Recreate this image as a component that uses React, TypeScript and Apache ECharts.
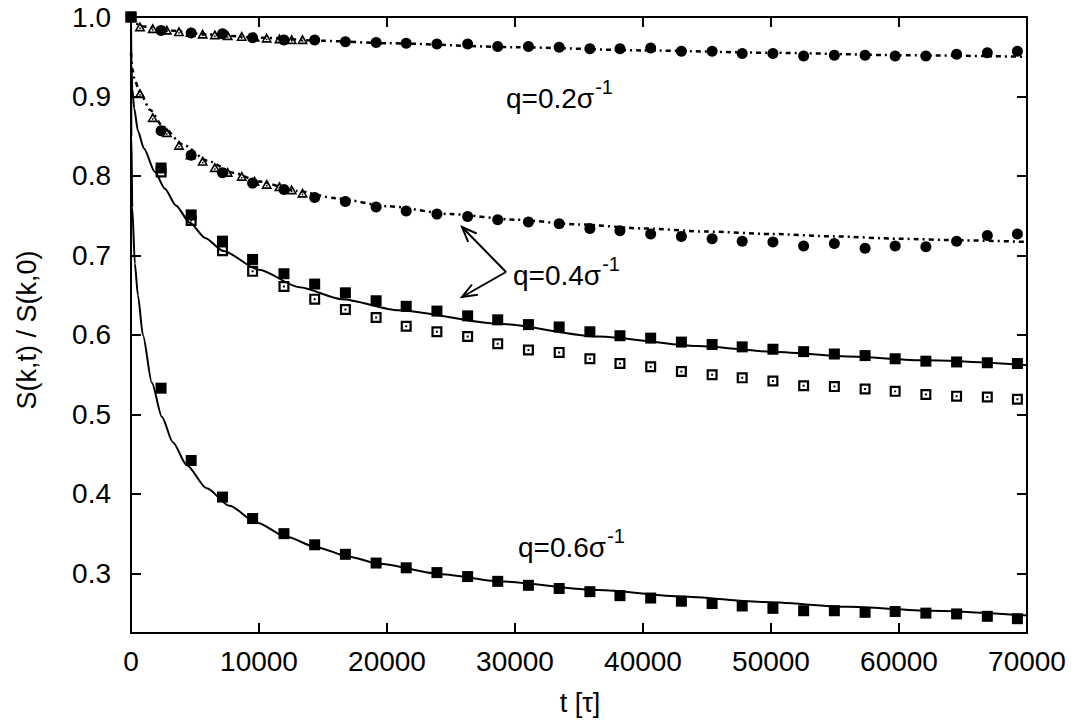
import React, { useEffect, useRef } from 'react';
import * as echarts from 'echarts';

// ---------------- data ----------------
const xTicks = [0, 10000, 20000, 30000, 40000, 50000, 60000, 70000];
const yTicks = [0.3, 0.4, 0.5, 0.6, 0.7, 0.8, 0.9, 1.0];

// simulation times (circles / squares)
const tMd = [2350, 4700, 7150, 9500, 11950, 14350, 16750, 19150, 21500, 23900, 26300, 28650, 31050, 33450, 35850, 38200, 40600, 43000, 45400, 47750, 50150, 52550, 54950, 57350, 59700, 62100, 64500, 66900, 69250];
// squares including the common t=0 point
const tSq = [0, 2350, 4700, 7150, 9500, 11950, 14350, 16750, 19150, 21500, 23900, 26300, 28650, 31050, 33450, 35850, 38200, 40600, 43000, 45400, 47750, 50150, 52550, 54950, 57350, 59700, 62100, 64500, 66900, 69250];
// triangle times
const tTri = [700, 1700, 2800, 3750, 4650, 5600, 6550, 7550, 8650, 9650, 10600, 11600, 12550, 13400];

// q = 0.2
const q02Tri = [0.988, 0.986, 0.984, 0.982, 0.981, 0.979, 0.978, 0.977, 0.976, 0.975, 0.974, 0.973, 0.972, 0.972];
const q02Circ = [0.983, 0.980, 0.979, 0.974, 0.971, 0.971, 0.969, 0.968, 0.967, 0.966, 0.966, 0.963, 0.963, 0.962, 0.960, 0.960, 0.961, 0.957, 0.957, 0.954, 0.954, 0.951, 0.952, 0.952, 0.951, 0.951, 0.953, 0.955, 0.957];
const fit02T = [0, 300, 1000, 3000, 6000, 10000, 15000, 20000, 30000, 40000, 50000, 60000, 70000];
const fit02 = [1.0, 0.992, 0.988, 0.983, 0.978, 0.974, 0.970, 0.967, 0.962, 0.958, 0.955, 0.952, 0.950];

// q = 0.4 (circles/triangles, dotted fit)
const q04Tri = [0.904, 0.874, 0.855, 0.839, 0.827, 0.819, 0.811, 0.805, 0.800, 0.794, 0.790, 0.787, 0.783, 0.779];
const q04Circ = [0.857, 0.826, 0.804, 0.791, 0.783, 0.773, 0.768, 0.761, 0.756, 0.752, 0.749, 0.745, 0.742, 0.740, 0.734, 0.731, 0.727, 0.724, 0.721, 0.718, 0.717, 0.712, 0.715, 0.709, 0.712, 0.711, 0.718, 0.725, 0.727];
const fit04dT = [0, 100, 300, 700, 1500, 2500, 4000, 6000, 8000, 10000, 13000, 16000, 20000, 25000, 30000, 35000, 40000, 45000, 50000, 55000, 60000, 65000, 70000];
const fit04d = [0.955, 0.935, 0.920, 0.905, 0.883, 0.862, 0.840, 0.819, 0.804, 0.793, 0.781, 0.772, 0.762, 0.752, 0.745, 0.739, 0.734, 0.730, 0.727, 0.724, 0.721, 0.719, 0.717];

// q = 0.4 (squares, solid fit)
const q04Filled = [1.0, 0.810, 0.751, 0.718, 0.695, 0.677, 0.664, 0.653, 0.643, 0.636, 0.630, 0.624, 0.619, 0.613, 0.610, 0.604, 0.599, 0.596, 0.591, 0.588, 0.585, 0.582, 0.579, 0.576, 0.574, 0.570, 0.567, 0.566, 0.565, 0.564];
const q04Open = [0.805, 0.744, 0.706, 0.680, 0.661, 0.645, 0.632, 0.622, 0.611, 0.604, 0.598, 0.589, 0.581, 0.578, 0.570, 0.564, 0.560, 0.554, 0.550, 0.546, 0.542, 0.536, 0.535, 0.532, 0.529, 0.525, 0.523, 0.522, 0.519];
const fit04sT = [0, 30, 100, 250, 540, 1000, 1870, 2650, 3500, 4600, 5800, 7160, 10000, 13150, 16500, 20900, 28700, 36500, 44300, 50000, 56000, 62000, 70000];
const fit04s = [1.0, 0.940, 0.910, 0.885, 0.857, 0.835, 0.805, 0.784, 0.763, 0.741, 0.722, 0.706, 0.682, 0.660, 0.645, 0.631, 0.614, 0.598, 0.586, 0.579, 0.573, 0.568, 0.562];

// q = 0.6
const q06Filled = [1.0, 0.533, 0.442, 0.396, 0.369, 0.350, 0.336, 0.324, 0.313, 0.307, 0.301, 0.296, 0.290, 0.285, 0.281, 0.277, 0.272, 0.269, 0.265, 0.262, 0.259, 0.256, 0.253, 0.253, 0.251, 0.252, 0.250, 0.249, 0.246, 0.243];
const fit06T = [0, 30, 100, 300, 540, 930, 1630, 2410, 3270, 4360, 5910, 7700, 9800, 12140, 14470, 17040, 19380, 24280, 28720, 36500, 43000, 49490, 56000, 62410, 70000];
const fit06 = [1.0, 0.850, 0.760, 0.690, 0.650, 0.600, 0.540, 0.497, 0.465, 0.436, 0.407, 0.385, 0.364, 0.346, 0.333, 0.321, 0.312, 0.299, 0.290, 0.279, 0.271, 0.264, 0.258, 0.253, 0.247];

const qLabels = ['q=0.2σ', 'q=0.4σ', 'q=0.6σ'];
const supText = '-1';
const xTitle = 't [τ]';
const yTitle = 'S(k,t) / S(k,0)';

// ---------------- component ----------------
const FONT = '"Liberation Sans", Arial, Helvetica, sans-serif';
const TRI = 'path://M5,0 L10,9 L0,9 Z M5,3.4 L2.3,7.5 L7.7,7.5 Z M4.3,5.4 L5.7,5.4 L5.7,6.8 L4.3,6.8 Z';
const OPEN_SQ = 'path://M0,0 L10,0 L10,10 L0,10 Z M2,2 L2,8 L8,8 L8,2 Z M4.1,4.1 L5.9,4.1 L5.9,5.9 L4.1,5.9 Z';

function zip(t: number[], v: number[]) {
  return t.map((x, i) => [x, v[i]]);
}

function measure(text: string, size: number) {
  const c = document.createElement('canvas').getContext('2d');
  if (!c) return text.length * size * 0.55;
  c.font = `${size}px "Liberation Sans"`;
  return c.measureText(text).width;
}

function arrow(x1: number, y1: number, x2: number, y2: number) {
  const dx = x2 - x1, dy = y2 - y1;
  const len = Math.hypot(dx, dy);
  const ux = dx / len, uy = dy / len;
  const hl = 16, a = 0.38;
  const ca = Math.cos(a), sa = Math.sin(a);
  const b1 = [x2 - hl * (ux * ca - uy * sa), y2 - hl * (uy * ca + ux * sa)];
  const b2 = [x2 - hl * (ux * ca + uy * sa), y2 - hl * (uy * ca - ux * sa)];
  return [
    { type: 'line', shape: { x1, y1, x2, y2 }, style: { stroke: '#000', lineWidth: 2 } },
    { type: 'polyline', shape: { points: [b1, [x2, y2], b2] }, style: { stroke: '#000', lineWidth: 2, fill: null } },
  ];
}

export default function App() {
  const ref = useRef<HTMLDivElement>(null);
  useEffect(() => {
    if (!ref.current) return;
    const chart = echarts.init(ref.current, null, { renderer: 'svg' });

    const axisLine = { show: true, onZero: false, lineStyle: { color: '#000', width: 2 } };
    const tick = { show: true, inside: true, length: 10, lineStyle: { color: '#000', width: 2 } };
    const lblStyle = { fontSize: 28, color: '#000', fontFamily: FONT };

    const labelPos = [
      { x: 506, y: 98 },
      { x: 513, y: 275 },
      { x: 518, y: 547 },
    ];
    const mainSize = 28;
    const supSize = 20;
    const texts: any[] = [];
    qLabels.forEach((s, i) => {
      const w = measure(s, mainSize);
      texts.push({
        type: 'text', x: labelPos[i].x, y: labelPos[i].y,
        style: { text: s, font: `${mainSize}px ${FONT}`, fill: '#000', textAlign: 'left', textVerticalAlign: 'middle' },
      });
      texts.push({
        type: 'text', x: labelPos[i].x + w + 1, y: labelPos[i].y - 11,
        style: { text: supText, font: `${supSize}px ${FONT}`, fill: '#000', textAlign: 'left', textVerticalAlign: 'middle' },
      });
    });

    const lineSeries = (t: number[], v: number[], dashed: boolean) => ({
      type: 'line', data: zip(t, v), showSymbol: false, symbol: 'none', smooth: 0.25, smoothMonotone: 'x',
      lineStyle: { color: '#000', width: dashed ? 2.5 : 2, type: dashed ? [5, 4, 2, 4] : 'solid' },
      silent: true, z: 2,
    });
    const scat = (t: number[], v: number[], symbol: string, size: any) => ({
      type: 'scatter', data: zip(t, v), symbol, symbolSize: size,
      itemStyle: { color: '#000', opacity: 1 }, silent: true, z: 3,
    });

    const option: any = {
      animation: false,
      backgroundColor: '#fff',
      grid: { left: 131, top: 17, width: 896, height: 616, containLabel: false },
      xAxis: [
        {
          type: 'value', position: 'bottom', min: 0, max: 70000, interval: 10000,
          axisLine, axisTick: { ...tick, customValues: xTicks },
          axisLabel: { ...lblStyle, margin: 14, customValues: xTicks, formatter: (v: number) => String(v) },
          splitLine: { show: false },
        },
        {
          type: 'value', position: 'top', min: 0, max: 70000, interval: 10000,
          axisLine, axisTick: { ...tick, customValues: xTicks }, axisLabel: { show: false }, splitLine: { show: false },
        },
      ],
      yAxis: [
        {
          type: 'value', position: 'left', min: 0.225, max: 1.0,
          axisLine, axisTick: { ...tick, customValues: yTicks },
          axisLabel: { ...lblStyle, margin: 20, customValues: yTicks, formatter: (v: number) => v.toFixed(1) },
          splitLine: { show: false },
        },
        {
          type: 'value', position: 'right', min: 0.225, max: 1.0,
          axisLine, axisTick: { ...tick, customValues: yTicks }, axisLabel: { show: false }, splitLine: { show: false },
        },
      ],
      series: [
        lineSeries(fit02T, fit02, true),
        lineSeries(fit04dT, fit04d, true),
        lineSeries(fit04sT, fit04s, false),
        lineSeries(fit06T, fit06, false),
        scat(tTri, q02Tri, TRI, [11, 10]),
        scat(tMd, q02Circ, 'circle', 11),
        scat(tTri, q04Tri, TRI, [11, 10]),
        scat(tMd, q04Circ, 'circle', 11),
        scat(tMd, q04Open, OPEN_SQ, 11),
        scat(tSq, q04Filled, 'rect', 11),
        scat(tSq, q06Filled, 'rect', 11),
      ],
      graphic: [
        ...texts,
        ...arrow(506, 272, 462, 227),
        ...arrow(506, 272, 462, 297),
        {
          type: 'text', x: 580, y: 703,
          style: { text: xTitle, font: `27px ${FONT}`, fill: '#000', textAlign: 'center', textVerticalAlign: 'middle' },
        },
        {
          type: 'text', x: 27, y: 330, rotation: Math.PI / 2,
          style: { text: yTitle, font: `27px ${FONT}`, fill: '#000', textAlign: 'center', textVerticalAlign: 'middle' },
        },
      ],
    };
    chart.setOption(option);
    return () => chart.dispose();
  }, []);
  return (
    <div
      ref={ref}
      style={{ position: 'fixed', left: 0, top: 0, width: 1078, height: 724, background: '#fff' }}
    />
  );
}
